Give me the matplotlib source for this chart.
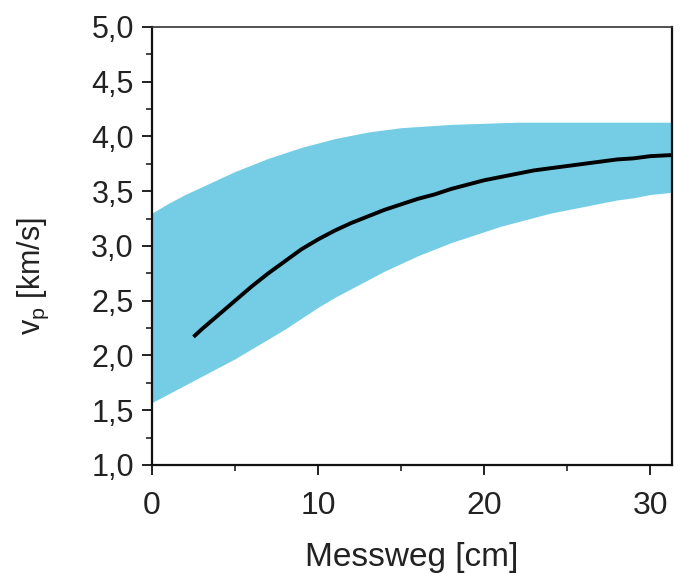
import matplotlib
matplotlib.use("Agg")
import matplotlib.pyplot as plt
from matplotlib.ticker import MultipleLocator, FuncFormatter

plt.rcParams['font.family'] = ['Liberation Sans', 'DejaVu Sans']
plt.rcParams['mathtext.fontset'] = 'custom'
plt.rcParams['mathtext.rm'] = 'Liberation Sans'
plt.rcParams['mathtext.it'] = 'Liberation Sans'

# band (range of velocities)
band_x = [0, 1, 2, 3, 4, 5, 6, 7, 8, 9, 10, 11, 12, 13, 14, 15, 16, 17, 18,
          19, 20, 21, 22, 23, 24, 25, 26, 27, 28, 29, 30, 31.3]
band_upper = [3.30, 3.39, 3.47, 3.54, 3.61, 3.68, 3.74, 3.80, 3.85, 3.90, 3.94,
              3.98, 4.01, 4.04, 4.06, 4.08, 4.09, 4.10, 4.11, 4.115, 4.12,
              4.125, 4.13, 4.13, 4.13, 4.13, 4.13, 4.13, 4.13, 4.13, 4.13, 4.13]
band_lower = [1.57, 1.65, 1.73, 1.81, 1.89, 1.97, 2.06, 2.15, 2.24, 2.34, 2.44,
              2.53, 2.61, 2.69, 2.77, 2.84, 2.91, 2.97, 3.03, 3.08, 3.13,
              3.18, 3.22, 3.26, 3.30, 3.33, 3.36, 3.39, 3.42, 3.44, 3.47, 3.49]

# mean curve
line_x = [2.5, 3, 4, 5, 6, 7, 8, 9, 10, 11, 12, 13, 14, 15, 16, 17, 18, 19,
          20, 21, 22, 23, 24, 25, 26, 27, 28, 29, 30, 31.3]
line_y = [2.17, 2.24, 2.37, 2.50, 2.63, 2.75, 2.86, 2.97, 3.06, 3.14, 3.21,
          3.27, 3.33, 3.38, 3.43, 3.47, 3.52, 3.56, 3.60, 3.63, 3.66, 3.69,
          3.71, 3.73, 3.75, 3.77, 3.79, 3.80, 3.82, 3.83]

fig = plt.figure(figsize=(6.8, 5.73), dpi=100)
ax = fig.add_axes([0.2235, 0.1885, 0.7645, 0.7645])

ax.fill_between(band_x, band_lower, band_upper, color='#74cce5', linewidth=0)
ax.plot(line_x, line_y, color='black', linewidth=2.8, solid_capstyle='butt',
        solid_joinstyle='round')

ax.set_xlim(0, 31.3)
ax.set_ylim(1.0, 5.0)

ax.xaxis.set_major_locator(MultipleLocator(10))
ax.xaxis.set_minor_locator(MultipleLocator(5))
ax.yaxis.set_major_locator(MultipleLocator(0.5))
ax.yaxis.set_minor_locator(MultipleLocator(0.25))
ax.yaxis.set_major_formatter(FuncFormatter(lambda v, p: f'{v:.1f}'.replace('.', ',')))

ax.tick_params(which='major', direction='out', length=7, width=1.4,
               colors='#222222')
ax.tick_params(which='minor', direction='out', length=4, width=1.2, colors='#222222')
ax.tick_params(axis='y', which='major', labelsize=22, pad=6)
ax.tick_params(axis='x', which='major', labelsize=23, pad=12)
ax.tick_params(top=False, right=False)

for side in ['left', 'bottom', 'right']:
    ax.spines[side].set_linewidth(1.6)
    ax.spines[side].set_color('#111111')
ax.spines['top'].set_linewidth(1.2)
ax.spines['top'].set_color('#333333')

ax.set_xlabel('Messweg [cm]', fontsize=24, color='#222222', labelpad=15)
fig.text(33 / 680, 1 - 276 / 573, r'v$_\mathregular{p}$ [km/s]', fontsize=22,
         color='#222222', rotation=90, ha='center', va='center')

fig.savefig('out.png', dpi=100, facecolor='white')
